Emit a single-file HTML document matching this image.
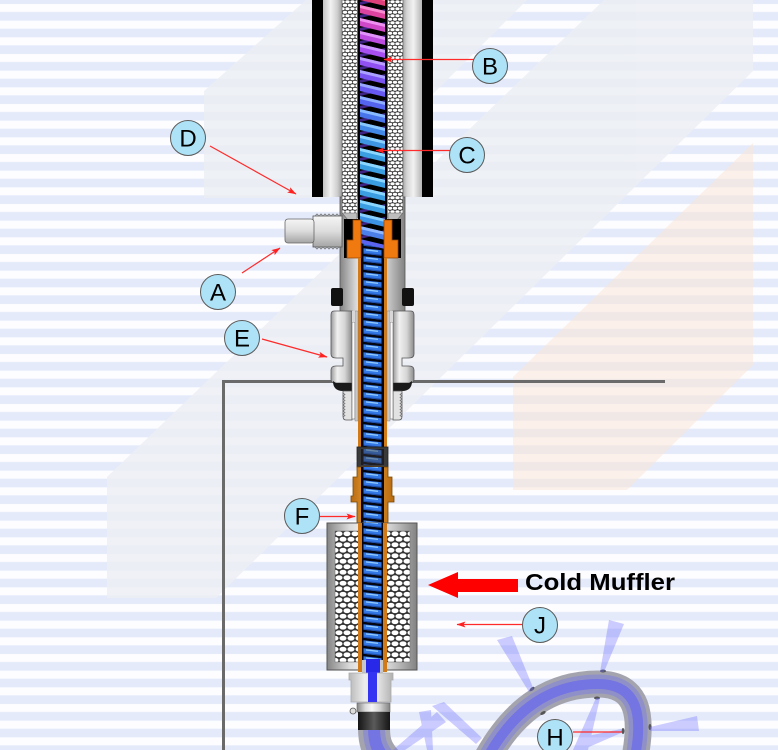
<!DOCTYPE html>
<html><head><meta charset="utf-8"><style>
html,body{margin:0;padding:0;background:#fff;}
svg{display:block;}
text{font-family:"Liberation Sans",Arial,sans-serif;}
</style></head><body>
<svg width="778" height="750" viewBox="0 0 778 750" xmlns="http://www.w3.org/2000/svg">
<defs>
<pattern id="stripes" x="0" y="0" width="778" height="16.6667" patternUnits="userSpaceOnUse">
 <rect x="0" y="0" width="778" height="4" fill="#e4eaf9"/>
 <rect x="0" y="12" width="778" height="4.6667" fill="#e4eaf9"/>
</pattern>
<pattern id="meshS" x="0" y="0" width="5" height="7" patternUnits="userSpaceOnUse">
 <rect width="5" height="7" fill="#333"/>
 <ellipse cx="2.5" cy="1.75" rx="2.2" ry="1.55" fill="#fff"/>
 <ellipse cx="0" cy="5.25" rx="2.2" ry="1.55" fill="#fff"/>
 <ellipse cx="5" cy="5.25" rx="2.2" ry="1.55" fill="#fff"/>
</pattern>
<pattern id="meshB" x="335" y="531" width="8" height="11" patternUnits="userSpaceOnUse">
 <rect width="8" height="11" fill="#333"/>
 <ellipse cx="4" cy="2.75" rx="3.5" ry="2.4" fill="#fff"/>
 <ellipse cx="0" cy="8.25" rx="3.5" ry="2.4" fill="#fff"/>
 <ellipse cx="8" cy="8.25" rx="3.5" ry="2.4" fill="#fff"/>
</pattern>
<pattern id="coilS" x="361" y="0" width="23" height="8" patternUnits="userSpaceOnUse">
 <rect width="23" height="8" fill="#050510"/>
 <polygon points="2.5,0.2 20.5,2.2 20.5,7.8 2.5,5.8" fill="#3478e6"/>
 <polygon points="2.5,4.6 20.5,6.6 20.5,7.8 2.5,5.8" fill="#1e4fb0"/>
 <polygon points="5,1.2 17,2.6 17,4 5,2.6" fill="#8cc8ff"/>
</pattern>
<linearGradient id="mH" x1="0" x2="1" y1="0" y2="0">
 <stop offset="0" stop-color="#858585"/><stop offset=".25" stop-color="#dadada"/>
 <stop offset=".45" stop-color="#f6f6f6"/><stop offset=".7" stop-color="#d2d2d2"/>
 <stop offset="1" stop-color="#828282"/>
</linearGradient>
<linearGradient id="nutG" x1="0" x2="1" y1="0" y2="0">
 <stop offset="0" stop-color="#9a9a9a"/><stop offset=".3" stop-color="#f0f0f0"/>
 <stop offset=".65" stop-color="#d6d6d6"/><stop offset="1" stop-color="#8c8c8c"/>
</linearGradient>
<linearGradient id="tubeL" x1="0" x2="1" y1="0" y2="0">
 <stop offset="0" stop-color="#c4c4c4"/><stop offset=".4" stop-color="#f2f2f2"/>
 <stop offset=".75" stop-color="#cfcfcf"/><stop offset="1" stop-color="#9c9c9c"/>
</linearGradient>
<linearGradient id="tubeR" x1="1" x2="0" y1="0" y2="0">
 <stop offset="0" stop-color="#b4b4b4"/><stop offset=".45" stop-color="#f2f2f2"/>
 <stop offset=".8" stop-color="#d4d4d4"/><stop offset="1" stop-color="#a8a8a8"/>
</linearGradient>
<linearGradient id="mV" x1="0" x2="0" y1="0" y2="1">
 <stop offset="0" stop-color="#f6f6f6"/><stop offset=".5" stop-color="#dcdcdc"/>
 <stop offset="1" stop-color="#a4a4a4"/>
</linearGradient>
<linearGradient id="darkG" x1="0" x2="1" y1="0" y2="0">
 <stop offset="0" stop-color="#151515"/><stop offset=".5" stop-color="#5a5a5a"/>
 <stop offset="1" stop-color="#151515"/>
</linearGradient>
<linearGradient id="connG" x1="0" x2="1" y1="0" y2="0">
 <stop offset="0" stop-color="#b8b8b8"/><stop offset=".35" stop-color="#ececec"/>
 <stop offset=".65" stop-color="#e6e6e6"/><stop offset="1" stop-color="#b0b0b0"/>
</linearGradient>
<linearGradient id="brassG" x1="0" x2="1" y1="0" y2="0">
 <stop offset="0" stop-color="#b86a10"/><stop offset=".4" stop-color="#e49a32"/>
 <stop offset="1" stop-color="#b86a10"/>
</linearGradient>
<marker id="ar" markerWidth="9" markerHeight="7" refX="8.5" refY="3.5" orient="auto" markerUnits="userSpaceOnUse">
 <path d="M0,0.5 L9,3.5 L0,6.5 L2,3.5 Z" fill="#ff2020"/>
</marker>
</defs>

<!-- background -->
<rect width="778" height="750" fill="#fdfdff"/>
<rect width="778" height="750" fill="url(#stripes)"/>
<g fill="#eceff4" opacity="0.85">
 <polygon points="306,0 527,0 329,198 204,198 204,91"/>
 <polygon points="604,0 753,0 753,71 216,598 107,598 107,477"/>
</g>
<polygon points="753,143 753,365 627,490 513,490 513,377" fill="#fbe4d6" opacity="0.5"/>

<!-- plate lines -->
<path d="M223.5,750 L223.5,381.5 L665,381.5" fill="none" stroke="#6a6a6a" stroke-width="3"/>

<!-- upper tube -->
<rect x="312" y="-2" width="121" height="199" fill="#000"/>
<rect x="323" y="-2" width="19" height="199" fill="url(#tubeL)"/>
<rect x="403" y="-2" width="19" height="199" fill="url(#tubeR)"/>

<!-- housing -->
<rect x="340" y="197" width="65" height="115" fill="url(#mH)" stroke="#555" stroke-width="0.8"/>
<rect x="342" y="-2" width="15" height="215" fill="url(#meshS)"/>
<rect x="388" y="-2" width="15" height="215" fill="url(#meshS)"/>
<g stroke="#777" stroke-width="0.8">
 <line x1="342" y1="0" x2="342" y2="213"/><line x1="403" y1="0" x2="403" y2="213"/>
 <line x1="357.5" y1="0" x2="357.5" y2="218"/><line x1="387.5" y1="0" x2="387.5" y2="218"/>
</g>
<polygon points="342,213 357,213 357,220 348,220" fill="#bdbdbd" stroke="#666" stroke-width="0.6"/>
<polygon points="403,213 388,213 388,220 397,220" fill="#bdbdbd" stroke="#666" stroke-width="0.6"/>
<rect x="344" y="219" width="57" height="39" fill="#000"/>

<!-- inner tube -->
<rect x="358" y="-2" width="29" height="674" fill="#000"/>
<rect x="361" y="244" width="23" height="418" fill="url(#coilS)"/>

<!-- upper colourful coil: back strands -->
<g fill="#4a2a9a" opacity="0.85">
 <polygon points="360,2 385,-4 385,-1 360,5"/>
 <polygon points="360,15 385,9 385,12 360,18"/>
 <polygon points="360,28 385,22 385,25 360,31"/>
 <polygon points="360,41 385,35 385,38 360,44"/>
 <polygon points="360,54 385,48 385,51 360,57"/>
 <polygon points="360,67 385,61 385,64 360,70"/>
 <polygon points="360,80 385,74 385,77 360,83"/>
 <polygon points="360,93 385,87 385,90 360,96"/>
 <polygon points="360,106 385,100 385,103 360,109"/>
 <polygon points="360,119 385,113 385,116 360,122"/>
 <polygon points="360,132 385,126 385,129 360,135"/>
 <polygon points="360,145 385,139 385,142 360,148"/>
 <polygon points="360,158 385,152 385,155 360,161"/>
 <polygon points="360,171 385,165 385,168 360,174"/>
 <polygon points="360,184 385,178 385,181 360,187"/>
 <polygon points="360,197 385,191 385,194 360,200"/>
 <polygon points="360,210 385,204 385,207 360,213"/>
 <polygon points="360,223 385,217 385,220 360,226"/>
 <polygon points="360,236 385,230 385,233 360,239"/>
</g>
<!-- front ribbons -->
<g>
 <polygon points="360,-8 385,-2 385,6 360,0" fill="#e0407a"/><polygon points="360,-8 385,-2 385,1 360,-5" fill="#ff86ac"/>
 <polygon points="360,5 385,11 385,19 360,13" fill="#dc44a0"/><polygon points="360,5 385,11 385,14 360,8" fill="#f88cd0"/>
 <polygon points="360,18 385,24 385,32 360,26" fill="#cf48c8"/><polygon points="360,18 385,24 385,27 360,21" fill="#ee90f0"/>
 <polygon points="360,31 385,37 385,45 360,39" fill="#bd4ce0"/><polygon points="360,31 385,37 385,40 360,34" fill="#e094fa"/>
 <polygon points="360,44 385,50 385,58 360,52" fill="#a74ff0"/><polygon points="360,44 385,50 385,53 360,47" fill="#cc98ff"/>
 <polygon points="360,57 385,63 385,71 360,65" fill="#9050f2"/><polygon points="360,57 385,63 385,66 360,60" fill="#bc9cff"/>
 <polygon points="360,70 385,76 385,84 360,78" fill="#7a54f0"/><polygon points="360,70 385,76 385,79 360,73" fill="#aaa0ff"/>
 <polygon points="360,83 385,89 385,97 360,91" fill="#6658f0"/><polygon points="360,83 385,89 385,92 360,86" fill="#98a6ff"/>
 <polygon points="360,96 385,102 385,110 360,104" fill="#5464ee"/><polygon points="360,96 385,102 385,105 360,99" fill="#8eaeff"/>
 <polygon points="360,109 385,115 385,123 360,117" fill="#4876ea"/><polygon points="360,109 385,115 385,118 360,112" fill="#88baff"/>
 <polygon points="360,122 385,128 385,136 360,130" fill="#4288e6"/><polygon points="360,122 385,128 385,131 360,125" fill="#88c6ff"/>
 <polygon points="360,135 385,141 385,149 360,143" fill="#3e96e2"/><polygon points="360,135 385,141 385,144 360,138" fill="#8ad0ff"/>
 <polygon points="360,148 385,154 385,162 360,156" fill="#3a9ee0"/><polygon points="360,148 385,154 385,157 360,151" fill="#8ad6ff"/>
 <polygon points="360,161 385,167 385,175 360,169" fill="#3a9ee0"/><polygon points="360,161 385,167 385,170 360,164" fill="#8ad6ff"/>
 <polygon points="360,174 385,180 385,188 360,182" fill="#3a9ee0"/><polygon points="360,174 385,180 385,183 360,177" fill="#8ad6ff"/>
 <polygon points="360,187 385,193 385,201 360,195" fill="#3a9ee0"/><polygon points="360,187 385,193 385,196 360,190" fill="#8ad6ff"/>
 <polygon points="360,200 385,206 385,214 360,208" fill="#3a9ee0"/><polygon points="360,200 385,206 385,209 360,203" fill="#8ad6ff"/>
 <polygon points="360,213 385,219 385,227 360,221" fill="#3c92e4"/><polygon points="360,213 385,219 385,222 360,216" fill="#8ad0ff"/>
 <polygon points="360,226 385,232 385,240 360,234" fill="#4c80e8"/><polygon points="360,226 385,232 385,235 360,229" fill="#90b8ff"/>
 <polygon points="360,239 385,245 385,249 360,243" fill="#5a64ee"/>
</g>

<!-- orange insert -->
<g fill="#f07a10" stroke="#9a4600" stroke-width="0.8">
 <polygon points="353,220 361,220 361,258 347,258 347,240 353,240"/>
 <polygon points="392,220 384,220 384,258 398,258 398,240 392,240"/>
</g>
<rect x="358" y="258" width="3" height="189" fill="#d07a1a"/>
<rect x="384" y="258" width="3" height="189" fill="#d07a1a"/>

<!-- side port A -->
<rect x="313" y="216" width="29" height="31" fill="url(#mV)" stroke="#555" stroke-width="0.8"/>
<path d="M315,216 l2,-2 l2,2 l2,-2 l2,2 l2,-2 l2,2 l2,-2 l2,2 l2,-2 l2,2 l2,-2 l2,2 l2,-2 l2,2 M315,247 l2,2 l2,-2 l2,2 l2,-2 l2,2 l2,-2 l2,2 l2,-2 l2,2 l2,-2 l2,2 l2,-2 l2,2" fill="none" stroke="#777" stroke-width="0.8"/>
<rect x="285" y="219" width="29" height="24" rx="3" fill="url(#mV)" stroke="#666" stroke-width="0.8"/>

<!-- O-rings -->
<rect x="331" y="288" width="12" height="18" rx="2" fill="#111"/>
<rect x="402" y="288" width="12" height="18" rx="2" fill="#111"/>

<!-- nut E -->
<path d="M334,311 L352,311 L352,383 L335,383 Q331,383 331,379 L331,370 Q331,366 336,366 L343,366 L343,358 L336,358 Q331,358 331,354 L331,315 Q331,311 334,311 Z" fill="url(#nutG)" stroke="#555" stroke-width="0.8"/>
<path d="M411,311 L393,311 L393,383 L410,383 Q414,383 414,379 L414,370 Q414,366 409,366 L402,366 L402,358 L409,358 Q414,358 414,354 L414,315 Q414,311 411,311 Z" fill="url(#nutG)" stroke="#555" stroke-width="0.8"/>
<path d="M333,381 Q333,391 343,391 L352,391 L352,383 L336,383 Z" fill="#1a1a1a"/>
<path d="M412,381 Q412,391 402,391 L393,391 L393,383 L409,383 Z" fill="#1a1a1a"/>
<!-- threaded stubs -->
<path d="M343,391 L352,391 L352,420 L346,420 Q343,420 343,416 Z" fill="#e2e2e2" stroke="#555" stroke-width="0.8"/>
<path d="M402,391 L393,391 L393,420 L399,420 Q402,420 402,416 Z" fill="#e2e2e2" stroke="#555" stroke-width="0.8"/>
<path d="M343,393 l2,1.5 l-2,1.5 l2,1.5 l-2,1.5 l2,1.5 l-2,1.5 l2,1.5 l-2,1.5 l2,1.5 l-2,1.5 l2,1.5 l-2,1.5 l2,1.5 l-2,1.5 l2,1.5 l-2,1.5 M402,393 l-2,1.5 l2,1.5 l-2,1.5 l2,1.5 l-2,1.5 l2,1.5 l-2,1.5 l2,1.5 l-2,1.5 l2,1.5 l-2,1.5 l2,1.5 l-2,1.5 l2,1.5 l-2,1.5 l2,1.5" fill="none" stroke="#666" stroke-width="0.7"/>
<!-- slots and walls -->
<rect x="352" y="322" width="3" height="97" fill="#fafafa" stroke="#666" stroke-width="0.6"/>
<rect x="390" y="322" width="3" height="97" fill="#fafafa" stroke="#666" stroke-width="0.6"/>
<rect x="355" y="311" width="3" height="110" fill="#c8c8c8" stroke="#777" stroke-width="0.4"/>
<rect x="387" y="311" width="3" height="110" fill="#c8c8c8" stroke="#777" stroke-width="0.4"/>
<rect x="352" y="311" width="3" height="11" fill="#d8d8d8"/>
<rect x="390" y="311" width="3" height="11" fill="#d8d8d8"/>

<!-- black coupler -->
<rect x="357" y="447" width="31" height="20" fill="#3a3a3a" stroke="#222" stroke-width="0.8"/>
<rect x="361" y="449" width="23" height="16" fill="url(#coilS)" opacity="0.55"/>

<!-- brass F -->
<path d="M357,467 L388,467 L388,477 L392,477 L392,496 L394,496 L394,502 L388,502 L388,523 L357,523 L357,502 L351,502 L351,496 L353,496 L353,477 L357,477 Z" fill="url(#brassG)" stroke="#7a4800" stroke-width="0.8"/>
<rect x="361" y="467" width="23" height="57" fill="url(#coilS)"/>

<!-- muffler box -->
<rect x="327" y="523" width="90" height="147" fill="url(#mH)" stroke="#555" stroke-width="1"/>
<rect x="335" y="531" width="24" height="131" fill="url(#meshB)" stroke="#777" stroke-width="0.6"/>
<rect x="386" y="531" width="24" height="131" fill="url(#meshB)" stroke="#777" stroke-width="0.6"/>
<rect x="358" y="523" width="4" height="149" fill="#d07a1a"/>
<rect x="383" y="523" width="4" height="149" fill="#d07a1a"/>
<rect x="362" y="523" width="21" height="140" fill="url(#coilS)"/>
<rect x="362" y="660" width="21" height="13" fill="#c8c8c8"/>
<rect x="366" y="659" width="14" height="14" fill="#2828e8"/>

<!-- connector -->
<path d="M349,673 L393,673 L393,680 L391,680 L391,702 L351,702 L351,680 L349,680 Z" fill="url(#connG)" stroke="#aaa" stroke-width="0.8"/>
<rect x="368" y="672" width="9" height="30" fill="#3434f2"/>

<!-- hose left -->
<g fill="none" stroke-linecap="butt">
 <path d="M374,728 C374,745 378,752 390,765" stroke="#a4a4ae" stroke-width="32"/>
 <path d="M374,728 C374,745 378,752 390,765" stroke="#9090c8" stroke-width="22"/>
 <path d="M374,728 C374,745 378,752 390,765" stroke="#7474e2" stroke-width="12"/>
</g>
<!-- clamp -->
<rect x="357" y="703" width="33" height="9" fill="url(#mH)" stroke="#666" stroke-width="0.6"/>
<rect x="358" y="712" width="32" height="18" fill="url(#darkG)"/>
<circle cx="353" cy="711" r="3" fill="#ddd" stroke="#555" stroke-width="0.8"/>

<!-- hose arch -->
<g fill="none">
 <path d="M485,762 C515,705 555,684 598,684 C638,684 644,715 634,762" stroke="#a4a4ae" stroke-width="27"/>
 <path d="M485,762 C515,705 555,684 598,684 C638,684 644,715 634,762" stroke="#9090c8" stroke-width="19"/>
 <path d="M485,762 C515,705 555,684 598,684 C638,684 644,715 634,762" stroke="#7474e2" stroke-width="10"/>
</g>
<g fill="#555">
 <ellipse cx="532" cy="689" rx="3" ry="1.5" transform="rotate(-40 532 689)"/>
 <ellipse cx="603" cy="671" rx="3" ry="1.5"/>
 <ellipse cx="597" cy="698" rx="3" ry="1.5"/>
 <ellipse cx="543" cy="713" rx="3" ry="1.5" transform="rotate(-30 543 713)"/>
 <ellipse cx="623" cy="731" rx="1.5" ry="3"/>
 <ellipse cx="650" cy="727" rx="1.5" ry="3"/>
</g>

<!-- rays -->
<g fill="#6f6fff" opacity="0.35">
 <polygon points="497,640 512,636 534,690 529,692"/>
 <polygon points="609,620 624,624 604,672 600,672"/>
 <polygon points="596,698 600,698 588,750 573,750"/>
 <polygon points="650,727 697,716 699,731 650,731"/>
 <polygon points="578,738 582,750 621,733 621,729"/>
 <polygon points="419,712 431,710 433,750 427,750"/>
 <polygon points="432,706 444,702 482,738 476,744"/>
 <polygon points="437,712 446,722 405,750 393,750"/>
</g>

<!-- Cold Muffler arrow + text -->
<polygon points="428,585 458,572 458,579 518,579 518,592 458,592 458,598" fill="#ff0000"/>
<text x="525" y="590" font-size="23" font-weight="bold" fill="#000" textLength="150" lengthAdjust="spacingAndGlyphs">Cold Muffler</text>

<!-- leader lines -->
<g stroke="#ff2a2a" stroke-width="1.2" fill="none">
 <line x1="474" y1="59.5" x2="384" y2="59.5" marker-end="url(#ar)"/>
 <line x1="450" y1="150.5" x2="376" y2="150.5" marker-end="url(#ar)"/>
 <line x1="210" y1="146" x2="296" y2="194" marker-end="url(#ar)"/>
 <line x1="242" y1="273" x2="280" y2="248" marker-end="url(#ar)"/>
 <line x1="262" y1="339" x2="327" y2="357" marker-end="url(#ar)"/>
 <line x1="320" y1="516.5" x2="355" y2="516.5" marker-end="url(#ar)"/>
 <line x1="522" y1="624.5" x2="457" y2="624.5" marker-end="url(#ar)"/>
 <line x1="573" y1="732" x2="622" y2="732"/>
</g>

<!-- labels -->
<g fill="#aee2f6" stroke="#5a5a5a" stroke-width="1">
 <circle cx="490" cy="66" r="17.5"/>
 <circle cx="467" cy="155" r="17.5"/>
 <circle cx="188" cy="138" r="17.5"/>
 <circle cx="218" cy="292" r="17.5"/>
 <circle cx="242" cy="338" r="17.5"/>
 <circle cx="302" cy="516" r="17.5"/>
 <circle cx="540" cy="625" r="17.5"/>
 <circle cx="555" cy="737" r="17.5"/>
</g>
<g font-size="24" fill="#000" text-anchor="middle">
 <text x="490" y="74.5">B</text>
 <text x="467" y="163.5">C</text>
 <text x="188" y="146.5">D</text>
 <text x="218" y="300.5">A</text>
 <text x="242" y="346.5">E</text>
 <text x="302" y="524.5">F</text>
 <text x="540" y="633.5">J</text>
 <text x="555" y="745.5">H</text>
</g>
</svg>
</body></html>
